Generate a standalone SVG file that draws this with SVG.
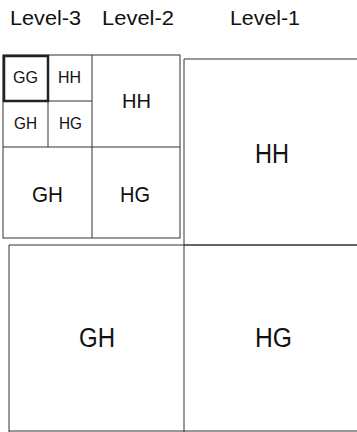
<svg xmlns="http://www.w3.org/2000/svg" width="357" height="432" viewBox="0 0 357 432">
<style>
.b{fill:none;stroke:#333;stroke-width:1}
.t{font-family:"Liberation Sans",Arial,sans-serif;fill:#111;text-anchor:middle}
.h{font-family:"Liberation Sans",Arial,sans-serif;fill:#111;font-size:20px}
</style>
<rect width="357" height="432" fill="#fff"/>
<g id="headers">
<text class="h" x="10" y="25" textLength="71" lengthAdjust="spacingAndGlyphs">Level-3</text>
<text class="h" x="102" y="25" textLength="72" lengthAdjust="spacingAndGlyphs">Level-2</text>
<text class="h" x="230" y="25" textLength="70" lengthAdjust="spacingAndGlyphs">Level-1</text>
</g>
<g id="lines">
<rect class="b" x="3" y="55" width="177" height="183"/>
<line class="b" x1="92" y1="55" x2="92" y2="238"/>
<line class="b" x1="3" y1="147" x2="180" y2="147"/>
<line class="b" x1="48" y1="55" x2="48" y2="147"/>
<line class="b" x1="3" y1="101" x2="92" y2="101"/>
<polyline class="b" points="357,59 184,59 184,245 357,245"/>
<polyline class="b" points="9,432 9,245 357,245"/>
<line class="b" x1="184" y1="245" x2="184" y2="432"/>
<line class="b" x1="9" y1="431" x2="357" y2="431"/>
</g>
<g id="GG3">
<rect x="4" y="56" width="44" height="45" fill="none" stroke="#222" stroke-width="2.5"/>
<text class="t" x="25.5" y="83" font-size="16" textLength="25" lengthAdjust="spacingAndGlyphs">GG</text>
</g>
<g id="HH3"><text class="t" x="69.5" y="83" font-size="16" textLength="23" lengthAdjust="spacingAndGlyphs">HH</text></g>
<g id="GH3"><text class="t" x="25.5" y="129" font-size="16" textLength="23" lengthAdjust="spacingAndGlyphs">GH</text></g>
<g id="HG3"><text class="t" x="70.5" y="129" font-size="16" textLength="23" lengthAdjust="spacingAndGlyphs">HG</text></g>
<g id="HH2"><text class="t" x="136.5" y="108" font-size="21" textLength="29" lengthAdjust="spacingAndGlyphs">HH</text></g>
<g id="GH2"><text class="t" x="47.5" y="202" font-size="22" textLength="31" lengthAdjust="spacingAndGlyphs">GH</text></g>
<g id="HG2"><text class="t" x="135" y="202" font-size="22" textLength="30" lengthAdjust="spacingAndGlyphs">HG</text></g>
<g id="HH1"><text class="t" x="272" y="163" font-size="28" textLength="34" lengthAdjust="spacingAndGlyphs">HH</text></g>
<g id="GH1"><text class="t" x="97" y="347" font-size="27" textLength="36" lengthAdjust="spacingAndGlyphs">GH</text></g>
<g id="HG1"><text class="t" x="273.5" y="347" font-size="27" textLength="37" lengthAdjust="spacingAndGlyphs">HG</text></g>
</svg>
